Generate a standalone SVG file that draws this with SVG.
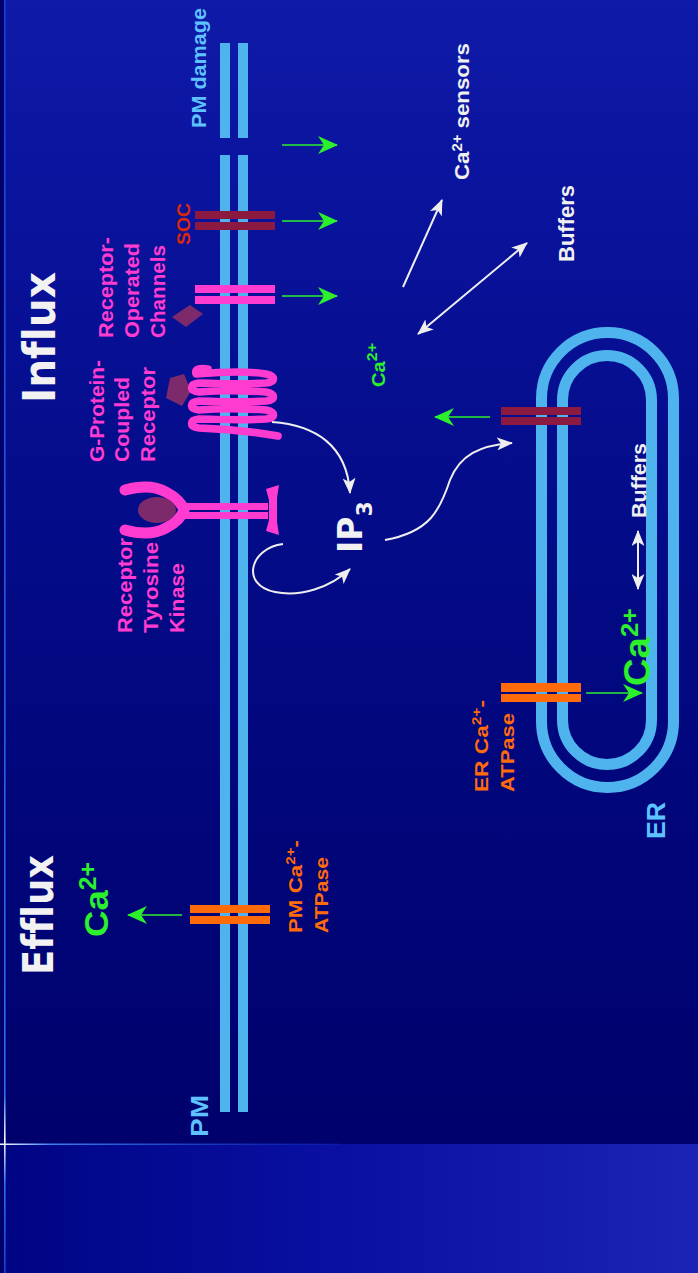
<svg xmlns="http://www.w3.org/2000/svg" width="698" height="1273" viewBox="0 0 698 1273">
<style>
  .lbl{font-family:"Liberation Sans",Arial,sans-serif;font-weight:bold;font-variant-ligatures:none}
  .head{font-family:"DejaVu Sans",Verdana,sans-serif;font-weight:bold;fill:#f2f2f2;font-variant-ligatures:none}
  .pink{fill:#ff3ccf}
  .orange{fill:#ff6a0a}
  .green{fill:#2cf02c}
  .white{fill:#f0f0f0}
  .sky{fill:#5ec2ff}
  .red{fill:#d8280c}
  .mem{fill:#4fb3ee}
  .ring{fill:none;stroke:#4fb3ee;stroke-width:11}
  .maroon{fill:#8c1a40}
  .pinkbar{fill:#ff3ccf}
  .orangebar{fill:#ff6a0a}
  .ligand{fill:#7c2a6c}
  .gflow{stroke:#2cf02c;stroke-width:1.6;fill:none;marker-end:url(#ah-green)}
  .wflow{stroke:#eeeeee;stroke-width:2;fill:none;marker-end:url(#ah-white)}
  .wboth{marker-start:url(#ah-white)}
</style>
<defs>
  <linearGradient id="bg" x1="0" y1="0" x2="0" y2="1144" gradientUnits="userSpaceOnUse">
    <stop offset="0" stop-color="#0f1ba8"/>
    <stop offset="0.12" stop-color="#0b15a0"/>
    <stop offset="0.4" stop-color="#050d8c"/>
    <stop offset="0.7" stop-color="#01067a"/>
    <stop offset="1" stop-color="#00016c"/>
  </linearGradient>
  <linearGradient id="floor" x1="0" y1="0" x2="698" y2="0" gradientUnits="userSpaceOnUse">
    <stop offset="0" stop-color="#000584"/>
    <stop offset="0.5" stop-color="#0a10a2"/>
    <stop offset="1" stop-color="#1b24b4"/>
  </linearGradient>
  <linearGradient id="edge-h" x1="0" y1="0" x2="340" y2="0" gradientUnits="userSpaceOnUse">
    <stop offset="0" stop-color="#ffffff"/>
    <stop offset="0.15" stop-color="#3a7cf0"/>
    <stop offset="1" stop-color="#1030c8" stop-opacity="0.3"/>
  </linearGradient>
  <linearGradient id="edge-v" x1="0" y1="0" x2="0" y2="1273" gradientUnits="userSpaceOnUse">
    <stop offset="0" stop-color="#1840d0"/>
    <stop offset="0.86" stop-color="#2a70ee"/>
    <stop offset="0.895" stop-color="#ffffff"/>
    <stop offset="0.93" stop-color="#2a70ee"/>
    <stop offset="1" stop-color="#1840d0"/>
  </linearGradient>
  <marker id="ah-green" markerUnits="userSpaceOnUse" markerWidth="20" markerHeight="18" viewBox="0 0 20 18" refX="19" refY="9" orient="auto">
    <path d="M0,0 L20,9 L0,18 L6,9 Z" fill="#2cf02c"/>
  </marker>
  <marker id="ah-white" markerUnits="userSpaceOnUse" markerWidth="16" markerHeight="13" viewBox="0 0 16 13" refX="15" refY="6.5" orient="auto-start-reverse">
    <path d="M0,0 L16,6.5 L0,13 L4,6.5 Z" fill="#eeeeee"/>
  </marker>
</defs>

<!-- backdrop -->
<rect x="0" y="0" width="698" height="1144" fill="url(#bg)"/>
<rect x="0" y="1144" width="698" height="129" fill="url(#floor)"/>
<rect x="0" y="0" width="4" height="1273" fill="#00006a"/>
<rect x="0" y="1143.5" width="340" height="1.5" fill="url(#edge-h)"/>
<rect x="4" y="0" width="1.6" height="1273" fill="url(#edge-v)"/>

<!-- plasma membrane -->
<g id="pm">
  <rect class="mem" x="220" y="43" width="10" height="95"/>
  <rect class="mem" x="238" y="43" width="10" height="95"/>
  <rect class="mem" x="220" y="155" width="10" height="957"/>
  <rect class="mem" x="238" y="155" width="10" height="957"/>
  <text class="lbl sky" transform="translate(206,128) rotate(-90)" font-size="21" textLength="120" lengthAdjust="spacingAndGlyphs">PM damage</text>
  <text class="lbl sky" transform="translate(208,1137) rotate(-90)" font-size="24" textLength="42" lengthAdjust="spacingAndGlyphs">PM</text>
</g>

<!-- endoplasmic reticulum -->
<g id="er">
  <rect class="ring" x="541.5" y="332.5" width="132" height="455" rx="66"/>
  <rect class="ring" x="562.5" y="355.5" width="89" height="409" rx="44.5"/>
  <text class="lbl sky" transform="translate(665,839) rotate(-90)" font-size="25" textLength="37" lengthAdjust="spacingAndGlyphs">ER</text>
</g>

<!-- store-operated channel -->
<g id="soc">
  <rect class="maroon" x="195" y="211" width="80" height="8"/>
  <rect class="maroon" x="195" y="222" width="80" height="8"/>
  <text class="lbl red" transform="translate(190,245) rotate(-90)" font-size="19" textLength="42" lengthAdjust="spacingAndGlyphs">SOC</text>
</g>

<!-- receptor-operated channel -->
<g id="roc">
  <rect class="pinkbar" x="195" y="285" width="80" height="8"/>
  <rect class="pinkbar" x="195" y="296" width="80" height="8"/>
  <polygon class="ligand" points="172,317 190,305 203,314 186,327"/>
  <text class="lbl pink" transform="translate(113,338) rotate(-90)" font-size="20" textLength="101" lengthAdjust="spacingAndGlyphs">Receptor-</text>
  <text class="lbl pink" transform="translate(139,338) rotate(-90)" font-size="20" textLength="95" lengthAdjust="spacingAndGlyphs">Operated</text>
  <text class="lbl pink" transform="translate(165,338) rotate(-90)" font-size="20" textLength="93" lengthAdjust="spacingAndGlyphs">Channels</text>
</g>

<!-- G-protein-coupled receptor: seven-pass serpentine -->
<g id="gpcr">
  <polygon class="ligand" points="170,378 184,374 191,391 182,406 166,398"/>
  <path d="M208 369 Q194 367 196 374 C230 371 255 372 266 374 C276 376 276 382 266 383 C240 385 215 383 199 383 C189 384 189 391 199 392 C225 390 250 391 266 392 C276 394 276 400 266 401 C240 403 215 401 199 401 C189 402 189 409 199 410 C225 408 250 409 266 410 C276 412 276 418 266 419 C240 421 215 419 199 419 C189 420 189 427 199 428 C230 429 255 432 278 436" fill="none" stroke="#ff3ccf" stroke-width="7.5" stroke-linecap="round" stroke-linejoin="round"/>
  <text class="lbl pink" transform="translate(104,462) rotate(-90)" font-size="20" textLength="102" lengthAdjust="spacingAndGlyphs">G-Protein-</text>
  <text class="lbl pink" transform="translate(129,462) rotate(-90)" font-size="20" textLength="85" lengthAdjust="spacingAndGlyphs">Coupled</text>
  <text class="lbl pink" transform="translate(155,462) rotate(-90)" font-size="20" textLength="95" lengthAdjust="spacingAndGlyphs">Receptor</text>
</g>

<!-- receptor tyrosine kinase -->
<g id="rtk">
  <path d="M125 490 Q150 483 166 492 Q181 500 184 510 Q181 520 166 528 Q150 537 125 530" fill="none" stroke="#ff3ccf" stroke-width="11" stroke-linecap="round"/>
  <ellipse class="ligand" cx="157" cy="510" rx="19" ry="13"/>
  <rect class="pinkbar" x="180" y="503" width="88" height="7"/>
  <rect class="pinkbar" x="180" y="512" width="88" height="7"/>
  <path class="pinkbar" d="M266 489 L279 485 L277 498 L277 522 L279 535 L266 531 L269 520 L269 500 Z"/>
  <text class="lbl pink" transform="translate(132,633) rotate(-90)" font-size="20" textLength="95" lengthAdjust="spacingAndGlyphs">Receptor</text>
  <text class="lbl pink" transform="translate(158,633) rotate(-90)" font-size="20" textLength="91" lengthAdjust="spacingAndGlyphs">Tyrosine</text>
  <text class="lbl pink" transform="translate(184,633) rotate(-90)" font-size="20" textLength="70" lengthAdjust="spacingAndGlyphs">Kinase</text>
</g>

<!-- plasma membrane Ca2+ ATPase -->
<g id="pmca">
  <rect class="orangebar" x="190" y="905" width="80" height="8"/>
  <rect class="orangebar" x="190" y="916" width="80" height="8"/>
  <text class="lbl orange" transform="translate(302,933) rotate(-90)" font-size="19" textLength="93" lengthAdjust="spacingAndGlyphs">PM Ca<tspan dy="-7" font-size="13">2+</tspan><tspan dy="7">-</tspan></text>
  <text class="lbl orange" transform="translate(328,933) rotate(-90)" font-size="19" textLength="76" lengthAdjust="spacingAndGlyphs">ATPase</text>
</g>

<!-- ER IP3 receptor channel -->
<g id="ip3r">
  <rect class="maroon" x="501" y="407" width="80" height="8"/>
  <rect class="maroon" x="501" y="417" width="80" height="8"/>
</g>

<!-- ER Ca2+ ATPase -->
<g id="serca">
  <rect class="orangebar" x="501" y="683" width="80" height="9"/>
  <rect class="orangebar" x="501" y="694" width="80" height="8"/>
  <text class="lbl orange" transform="translate(488,792) rotate(-90)" font-size="19" textLength="92" lengthAdjust="spacingAndGlyphs">ER Ca<tspan dy="-7" font-size="13">2+</tspan><tspan dy="7">-</tspan></text>
  <text class="lbl orange" transform="translate(514,792) rotate(-90)" font-size="19" textLength="79" lengthAdjust="spacingAndGlyphs">ATPase</text>
</g>

<!-- headings and free labels -->
<g id="headings">
  <text class="head" transform="translate(55,403) rotate(-90)" font-size="44" textLength="131" lengthAdjust="spacingAndGlyphs">Influx</text>
  <text class="head" transform="translate(53,975) rotate(-90)" font-size="43" textLength="120" lengthAdjust="spacingAndGlyphs">Efflux</text>
</g>
<g id="ip3">
  <text class="head" transform="translate(362,553) rotate(-90)" font-size="33">IP<tspan dy="10" font-size="22">3</tspan></text>
</g>
<g id="sensors">
  <text class="lbl white" transform="translate(469,180) rotate(-90)" font-size="21" textLength="137" lengthAdjust="spacingAndGlyphs">Ca<tspan dy="-7" font-size="14">2+</tspan><tspan dy="7"> sensors</tspan></text>
</g>
<g id="buffers-cyto">
  <text class="lbl white" transform="translate(574,262) rotate(-90)" font-size="22" textLength="77" lengthAdjust="spacingAndGlyphs">Buffers</text>
</g>
<g id="buffers-er">
  <text class="lbl white" transform="translate(646,518) rotate(-90)" font-size="21" textLength="75" lengthAdjust="spacingAndGlyphs">Buffers</text>
</g>
<g id="ca-cyto">
  <text class="lbl green" transform="translate(385,387) rotate(-90)" font-size="19" textLength="44" lengthAdjust="spacingAndGlyphs">Ca<tspan dy="-8" font-size="15">2+</tspan></text>
</g>
<g id="ca-er">
  <text class="lbl green" transform="translate(650,686) rotate(-90)" font-size="36" textLength="78" lengthAdjust="spacingAndGlyphs">Ca<tspan dy="-12" font-size="24">2+</tspan></text>
</g>
<g id="ca-out">
  <text class="lbl green" transform="translate(108,937) rotate(-90)" font-size="34" textLength="75" lengthAdjust="spacingAndGlyphs">Ca<tspan dy="-12" font-size="23">2+</tspan></text>
</g>

<!-- fluxes and signalling arrows -->
<g id="connectors">
  <line class="gflow" x1="282" y1="145" x2="337" y2="145"/>
  <line class="gflow" x1="282" y1="221" x2="337" y2="221"/>
  <line class="gflow" x1="282" y1="296" x2="337" y2="296"/>
  <line class="gflow" x1="182" y1="915" x2="128" y2="915"/>
  <line class="gflow" x1="490" y1="417" x2="435" y2="417"/>
  <line class="gflow" x1="586" y1="693" x2="642" y2="693"/>
  <line class="wflow" x1="403" y1="287" x2="442" y2="200"/>
  <line class="wflow wboth" x1="418" y1="334" x2="527" y2="243"/>
  <line class="wflow wboth" x1="638" y1="589" x2="638" y2="531"/>
  <path class="wflow" d="M272 422 C315 425 347 445 350 493"/>
  <path class="wflow" d="M283 544 C250 548 240 585 275 592 C300 597 330 588 350 569"/>
  <path class="wflow" d="M385 540 C430 532 440 510 450 480 C460 455 480 445 512 443"/>
</g>
</svg>
